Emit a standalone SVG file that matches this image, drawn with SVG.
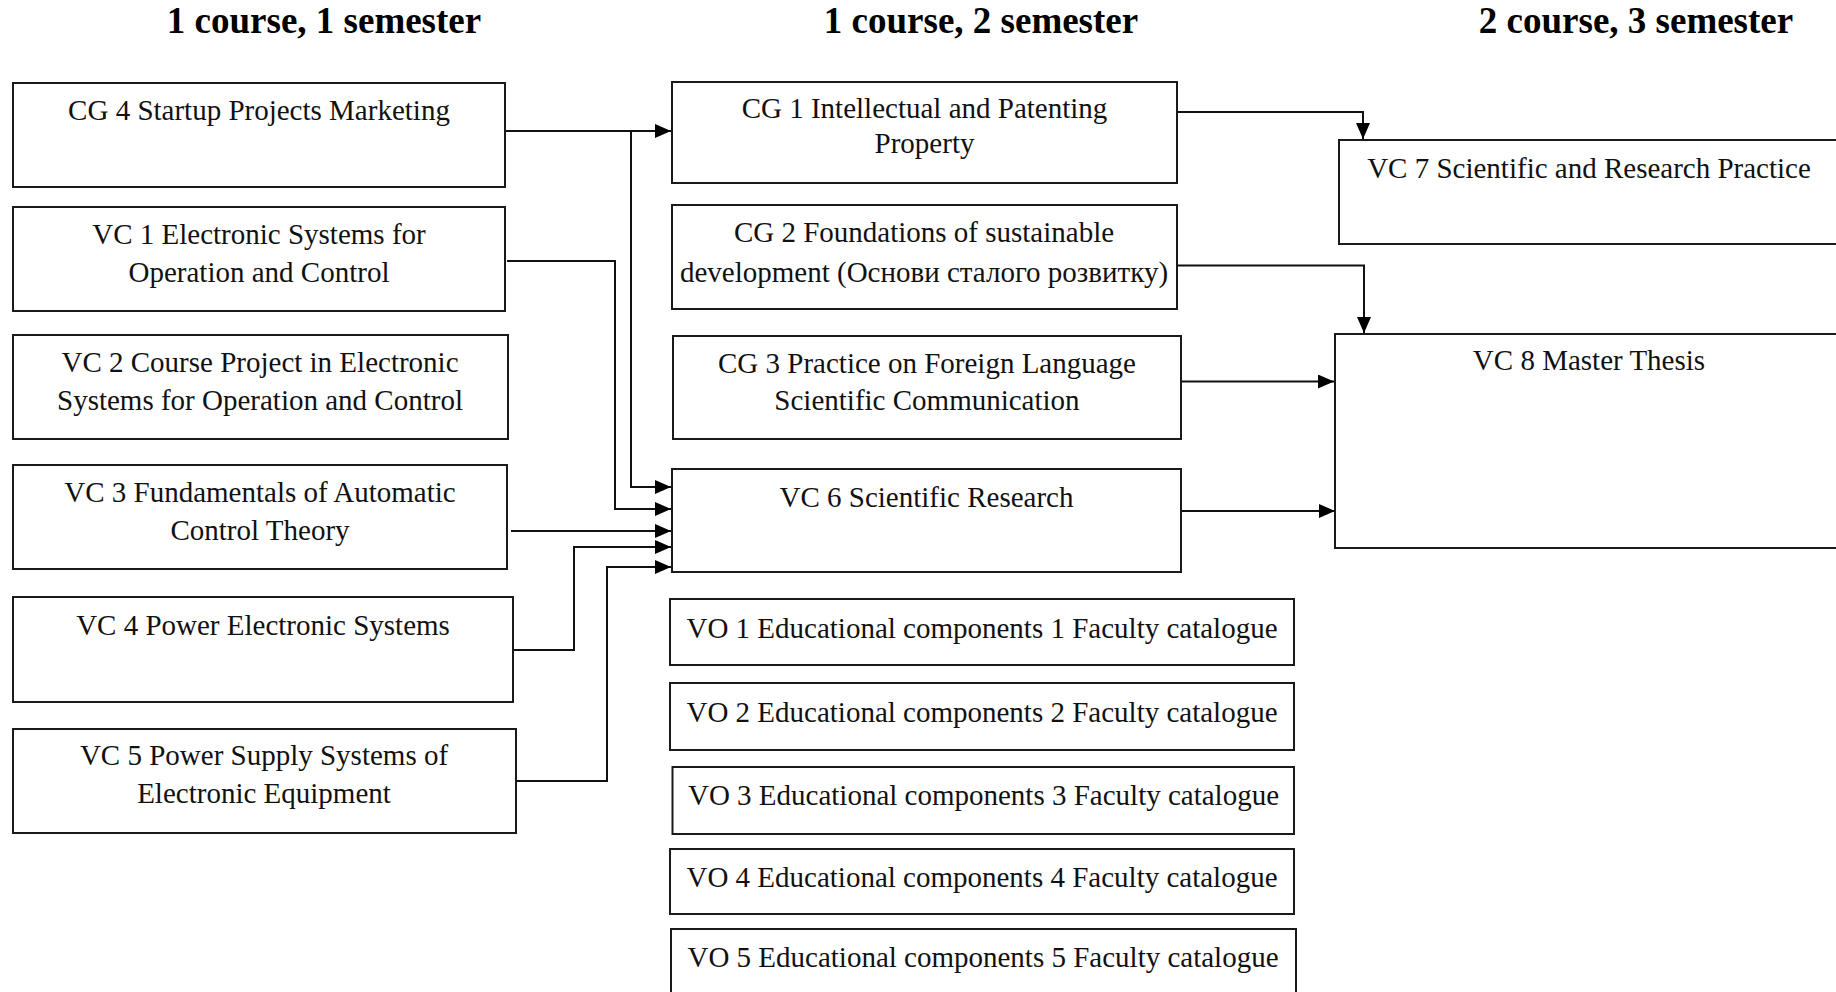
<svg xmlns="http://www.w3.org/2000/svg" width="1836" height="992" viewBox="0 0 1836 992">
<style>
.box{fill:#fff;stroke:#1a1a1a;stroke-width:2}
.t{font-family:"Liberation Serif","Times New Roman",serif;font-size:29px;fill:#111;text-anchor:middle}
.h{font-family:"Liberation Serif","Times New Roman",serif;font-size:37px;font-weight:bold;fill:#000;text-anchor:middle}
.c{fill:none;stroke:#111;stroke-width:2}
</style>
<defs>
<marker id="arr" markerUnits="userSpaceOnUse" markerWidth="16" markerHeight="14" refX="16" refY="7" orient="auto">
<path d="M0,0 L16,7 L0,14 z" fill="#000"/>
</marker>
</defs>
<rect width="1836" height="992" fill="#fff"/>
<g id="titles">
<text class="h" x="324" y="33">1 course, 1 semester</text>
<text class="h" x="981" y="33">1 course, 2 semester</text>
<text class="h" x="1636" y="33">2 course, 3 semester</text>
</g>
<g id="connectors">
<path class="c" d="M502,131 H671" marker-end="url(#arr)"/>
<path class="c" d="M631,131 V487 H671" marker-end="url(#arr)"/>
<path class="c" d="M507,261 H615 V509 H671" marker-end="url(#arr)"/>
<path class="c" d="M511,531 H671" marker-end="url(#arr)"/>
<path class="c" d="M513,650 H574 V547 H671" marker-end="url(#arr)"/>
<path class="c" d="M515,781 H607 V567 H671" marker-end="url(#arr)"/>
<path class="c" d="M1177,112 H1363 V139" marker-end="url(#arr)"/>
<path class="c" d="M1177,265.5 H1364 V333" marker-end="url(#arr)"/>
<path class="c" d="M1181,381.5 H1334" marker-end="url(#arr)"/>
<path class="c" d="M1181,511 H1335" marker-end="url(#arr)"/>
</g>
<g id="cg4"><rect class="box" x="13" y="83" width="492" height="104"/><text class="t" x="259" y="120">CG 4 Startup Projects Marketing</text></g>
<g id="vc1"><rect class="box" x="13" y="207" width="492" height="104"/><text class="t" x="259" y="244">VC 1 Electronic Systems for</text><text class="t" x="259" y="282">Operation and Control</text></g>
<g id="vc2"><rect class="box" x="13" y="335" width="495" height="104"/><text class="t" x="260" y="372">VC 2 Course Project in Electronic</text><text class="t" x="260" y="410">Systems for Operation and Control</text></g>
<g id="vc3"><rect class="box" x="13" y="465" width="494" height="104"/><text class="t" x="260" y="502">VC 3 Fundamentals of Automatic</text><text class="t" x="260" y="540">Control Theory</text></g>
<g id="vc4"><rect class="box" x="13" y="597" width="500" height="105"/><text class="t" x="263" y="635">VC 4 Power Electronic Systems</text></g>
<g id="vc5"><rect class="box" x="13" y="729" width="503" height="104"/><text class="t" x="264" y="765">VC 5 Power Supply Systems of</text><text class="t" x="264" y="803">Electronic Equipment</text></g>
<g id="cg1"><rect class="box" x="672" y="82" width="505" height="101"/><text class="t" x="924.5" y="117.5">CG 1 Intellectual and Patenting</text><text class="t" x="924.5" y="153">Property</text></g>
<g id="cg2"><rect class="box" x="672" y="205" width="505" height="104"/><text class="t" x="924" y="242">CG 2 Foundations of sustainable</text><text class="t" x="924" y="282">development (Основи сталого розвитку)</text></g>
<g id="cg3"><rect class="box" x="673" y="336" width="508" height="103"/><text class="t" x="927" y="373">CG 3 Practice on Foreign Language</text><text class="t" x="927" y="410">Scientific Communication</text></g>
<g id="vc6"><rect class="box" x="672" y="469" width="509" height="103"/><text class="t" x="926.5" y="507">VC 6 Scientific Research</text></g>
<g id="vo1"><rect class="box" x="670" y="599" width="624" height="66"/><text class="t" x="982" y="638">VO 1 Educational components 1 Faculty catalogue</text></g>
<g id="vo2"><rect class="box" x="670" y="683" width="624" height="67"/><text class="t" x="982" y="722">VO 2 Educational components 2 Faculty catalogue</text></g>
<g id="vo3"><rect class="box" x="672.5" y="767" width="621.5" height="67"/><text class="t" x="983.5" y="805">VO 3 Educational components 3 Faculty catalogue</text></g>
<g id="vo4"><rect class="box" x="670" y="849" width="624" height="65"/><text class="t" x="982" y="887">VO 4 Educational components 4 Faculty catalogue</text></g>
<g id="vo5"><rect class="box" x="671" y="929" width="625" height="100"/><text class="t" x="983" y="967">VO 5 Educational components 5 Faculty catalogue</text></g>
<g id="vc7"><rect class="box" x="1339" y="140" width="520" height="104"/><text class="t" x="1589" y="178">VC 7 Scientific and Research Practice</text></g>
<g id="vc8"><rect class="box" x="1335" y="334" width="520" height="214"/><text class="t" x="1589" y="370">VC 8 Master Thesis</text></g>
</svg>
